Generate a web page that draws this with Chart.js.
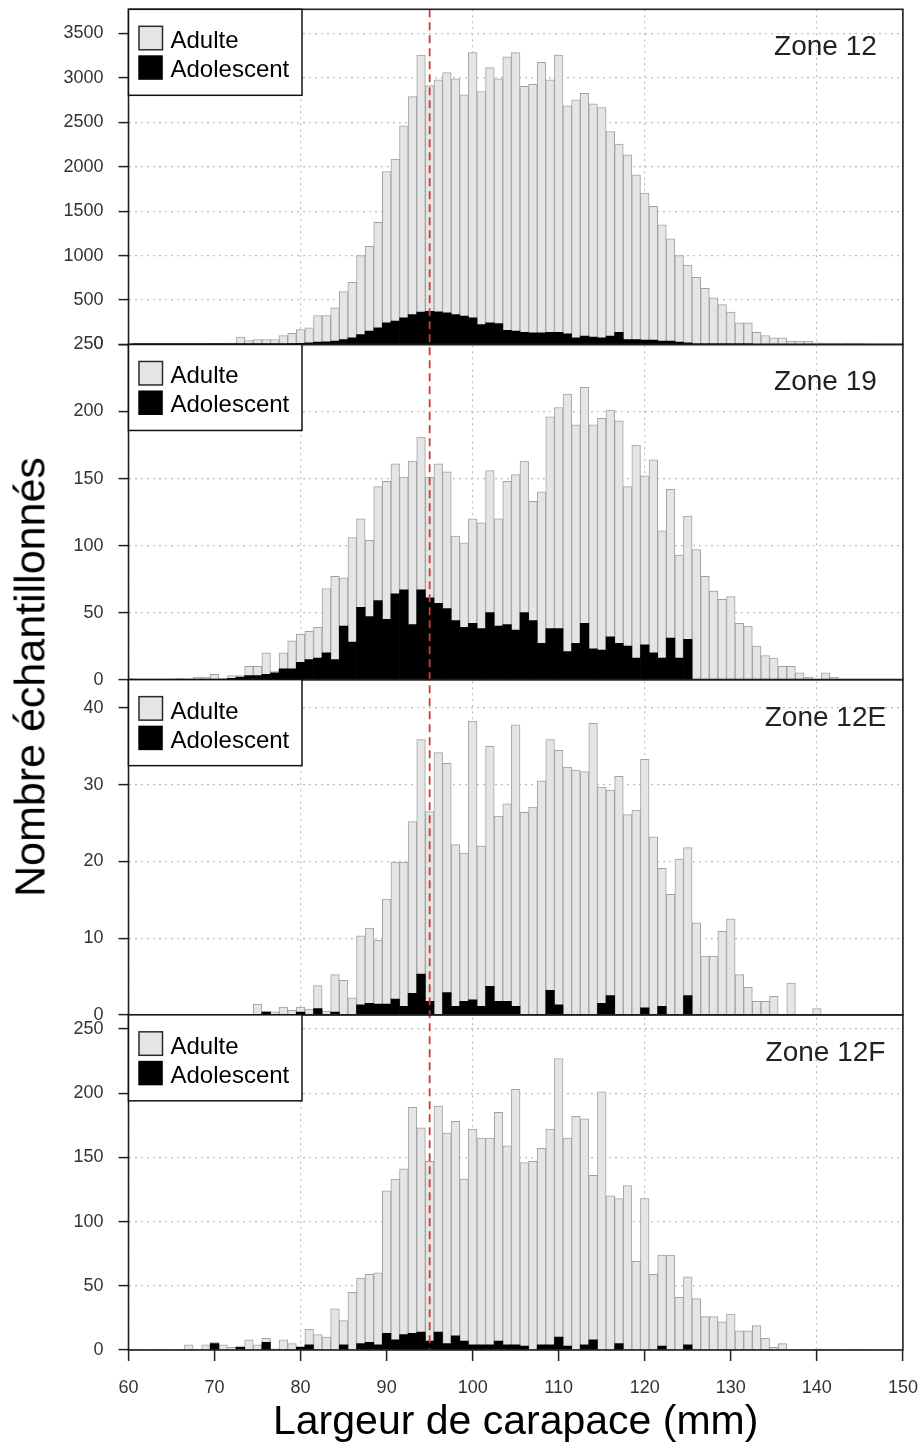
<!DOCTYPE html>
<html lang="fr">
<head>
<meta charset="utf-8">
<title>Largeur de carapace par zone</title>
<script src="https://cdn.jsdelivr.net/npm/chart.js@4.4.1/dist/chart.umd.min.js"></script>
<style>
  html, body { margin: 0; padding: 0; background: #fff; }
  #wrap { position: relative; width: 924px; height: 1447px; }
  #ytitle {
    position: absolute; left: 30px; top: 677px;
    transform: translate(-50%, -50%) rotate(-90deg);
    font-family: "Liberation Sans", Arial, sans-serif; font-size: 43px; line-height: 1;
    color: #000; white-space: nowrap;
  }
</style>
</head>
<body>
<div id="wrap">
  <canvas id="c" width="924" height="1447"></canvas>
  <div id="ytitle">Nombre échantillonnés</div>
</div>
<script>
// ---- Catégories : classes de largeur de carapace (mm) ----
const largeur = [60,61,62,63,64,65,66,67,68,69,70,71,72,73,74,75,76,77,78,79,
  80,81,82,83,84,85,86,87,88,89,90,91,92,93,94,95,96,97,98,99,
  100,101,102,103,104,105,106,107,108,109,110,111,112,113,114,115,116,117,118,119,
  120,121,122,123,124,125,126,127,128,129,130,131,132,133,134,135,136,137,138,139,
  140,141,142,143,144,145,146];

// ---- Zone 12 ----
const zone12Adulte = [0,5,5,5,5,5,5,5,7,7,
  9,8,11,77,40,50,50,50,93,114,
  156,168,300,296,375,539,625,887,954,1187,
  1703,1823,2159,2452,2893,2538,2609,2702,2650,2489,
  2983,2620,2871,2751,3075,3133,2766,2796,3043,2838,
  3118,2564,2676,2732,2624,2590,2302,2115,2078,1853,
  1654,1504,1310,1150,973,875,748,627,521,447,
  361,242,242,138,101,75,75,37,37,37,
  18,15,15,15,15,15,0];
const zone12Adolescent = [0,3,3,3,3,3,3,3,3,3,
  3,4,4,5,5,6,6,6,8,10,
  12,19,26,30,37,56,75,112,150,187,
  243,262,300,337,363,374,367,356,337,318,
  300,225,243,236,160,150,138,131,131,138,
  138,120,75,94,82,75,94,138,56,56,
  49,49,37,37,26,19,8,5,3,2,
  2,1,1,0,0,0,0,0,0,0,
  0,0,0,0,0,0,0];

// ---- Zone 19 ----
const zone19Adulte = [1,0,0,0,0,0,1,0,2,2,
  4,1,2,1,7,7,16,1,12,21,
  21,21,23,48,62,36,78,66,57,85,
  103,97,84,122,114,90,104,102,63,63,
  78,79,106,80,107,116,113,89,113,158,
  165,192,163,176,167,173,169,166,119,159,
  126,144,95,111,77,92,97,77,66,60,
  62,42,40,25,18,16,10,10,5,2,
  0,5,2,0,0,0,0];
const zone19Adolescent = [0,0,0,0,0,0,0,0,0,0,
  0,0,1,2,3,3,4,5,8,8,
  13,15,16,20,15,40,28,54,47,59,
  45,64,67,41,67,61,57,53,44,39,
  42,38,50,40,41,37,50,44,27,38,
  38,21,27,42,23,22,32,27,25,16,
  26,20,16,31,16,30,0,0,0,0,
  0,0,0,0,0,0,0,0,0,0,
  0,0,0,0,0,0,0];

// ---- Zone 12E ----
const zone12EAdulte = [0,0,0,0,0,0,0,0,0,0,
  0,0,0,0,0,1.4,0.1,0.4,1.0,0.6,
  0.65,0.75,3.0,0.5,4.9,4.5,2.2,9.0,9.8,8.35,
  13.7,17.85,18.8,22.4,30.6,24.75,34.2,29.9,21.1,19.35,
  36.35,20.9,31.3,24.15,25.75,36.7,26.4,27.1,30.5,32.7,
  33.2,32.3,31.9,31.7,38,28.2,26.8,31.1,26.1,26.7,
  32.4,23.2,18,15.7,20.3,19.3,12,7.65,7.65,10.9,
  12.5,5.25,3.6,1.75,1.75,2.4,0,4.15,0,0,
  0.8,0,0,0,0,0,0];
const zone12EAdolescent = [0,0,0,0,0,0,0,0,0,0,
  0,0,0,0,0,0,0.35,0,0,0,
  0.35,0,0.8,0,0.35,0,0,1.3,1.5,1.4,
  1.4,2.05,1.1,2.8,5.3,1.75,0,2.9,1.1,1.75,
  1.95,1.1,3.7,1.75,1.75,1.1,0,0,0,3.2,
  1.3,0,0,0,0,1.5,2.5,0,0,0,
  0.9,0,1.1,0,0,2.5,0,0,0,0,
  0,0,0,0,0,0,0,0,0,0,
  0,0,0,0,0,0,0];

// ---- Zone 12F ----
const zone12FAdulte = [0,0,0,0,0,0,0,4,0,4,
  1,4,2,1,8,4,3,1,8,5,
  1,12,12,10,32,19,45,51,53,56,
  111,125,129,176,159,140,176,164,167,126,
  168,161,161,178,155,199,143,147,153,168,
  217,162,182,176,128,201,120,113,128,69,
  118,59,71,74,41,53,40,26,26,22,
  28,15,15,19,9,2,5,0,0,0,
  0,0,0,0,0,0,0];
const zone12FAdolescent = [0,0,0,0,0,0,0,0,0,0,
  5,0,0,2,0,0,6,0,0,0,
  2,4,0,0,0,4,0,5,6,4,
  13,8,12,13,14,7,14,5,11,7,
  4,4,4,7,4,4,3,0,4,4,
  10,3,0,4,8,0,0,5,0,0,
  0,0,3,0,0,4,0,0,0,0,
  0,0,0,0,0,0,0,0,0,0,
  0,0,0,0,0,0,0];

// ---- Graduations ----
const xTicks = [60, 70, 80, 90, 100, 110, 120, 130, 140, 150];
const yTicksZone12 = [0, 500, 1000, 1500, 2000, 2500, 3000, 3500];
const yTicksZone19 = [0, 50, 100, 150, 200, 250];
const yTicksZone12E = [0, 10, 20, 30, 40];
const yTicksZone12F = [0, 50, 100, 150, 200, 250];
const zoneNames = ['Zone 12', 'Zone 19', 'Zone 12E', 'Zone 12F'];
const yMax = [3770, 250, 43.7, 261];
const ligneReference = 95;
const zoneLabelX = 141;

const FONT = '"Liberation Sans", Arial, sans-serif';
const axisIds = ['yA', 'yB', 'yC', 'yD'];
const yTicksAll = [yTicksZone12, yTicksZone19, yTicksZone12E, yTicksZone12F];
const adultes = [zone12Adulte, zone19Adulte, zone12EAdulte, zone12FAdulte];
const adolescents = [zone12Adolescent, zone19Adolescent, zone12EAdolescent, zone12FAdolescent];

const datasets = [];
axisIds.forEach((id, i) => {
  datasets.push({
    label: 'Adolescent', data: adolescents[i], yAxisID: id, xAxisID: 'x',
    backgroundColor: '#000000', borderWidth: 0, grouped: false, stack: 's' + i,
    barPercentage: 1, categoryPercentage: 1
  });
  datasets.push({
    label: 'Adulte', data: adultes[i], yAxisID: id, xAxisID: 'x',
    backgroundColor: '#e5e5e5', borderColor: '#a2a2a2', borderWidth: 1,
    borderSkipped: 'start', grouped: false, stack: 's' + i,
    barPercentage: 1, categoryPercentage: 1
  });
});

function yScale(i) {
  return {
    type: 'linear', position: 'left', stack: 'panneaux', stackWeight: 1, weight: 4 - i,
    stacked: true, min: 0, max: yMax[i],
    afterBuildTicks(s) { s.ticks = yTicksAll[i].map(v => ({ value: v })); },
    ticks: { autoSkip: false, padding: 15, color: '#333', font: { family: FONT, size: 18 },
             callback: v => String(v) },
    grid: { color: '#bdbdbd', lineWidth: 1.2, tickLength: 10, tickColor: '#222', tickWidth: 1.5 },
    border: { display: false, dash: [2, 4] },
    afterFit(s) { s.width = 128.5; s.paddingTop = 0; s.paddingBottom = 0; }
  };
}

const scales = {
  x: {
    type: 'linear', position: 'bottom', min: 60, max: 150, offset: false,
    afterBuildTicks(s) { s.ticks = xTicks.map(v => ({ value: v })); },
    ticks: { autoSkip: false, maxRotation: 0, padding: 16, color: '#333', font: { family: FONT, size: 18 },
             callback: v => String(v) },
    grid: {
      offset: false,
      color: c => (c.tick && c.tick.value % 20 === 0) ? '#bdbdbd' : 'rgba(0,0,0,0)',
      lineWidth: 1.2, tickLength: 11, tickColor: '#222', tickWidth: 1.5
    },
    border: { display: false, dash: [2, 4] },
    title: { display: true, text: 'Largeur de carapace (mm)', color: '#000',
             font: { family: FONT, size: 41 }, padding: { top: 0, bottom: 0 } },
    afterFit(s) { s.height = 97; s.paddingLeft = 0; s.paddingRight = 0; }
  }
};
axisIds.forEach((id, i) => { scales[id] = yScale(i); });

const panelsPlugin = {
  id: 'panels',
  afterDatasetsDraw(chart) {
    const ctx = chart.ctx;
    const xs = chart.scales.x;
    const area = chart.chartArea;
    // ligne de référence (95 mm)
    const xr = xs.getPixelForValue(ligneReference);
    ctx.save();
    ctx.strokeStyle = '#d23a3a';
    ctx.lineWidth = 1.8;
    ctx.setLineDash([8, 5]);
    ctx.beginPath();
    ctx.moveTo(xr, area.top);
    ctx.lineTo(xr, area.bottom);
    ctx.stroke();
    ctx.restore();

    const labAd = chart.data.datasets[1].label;
    const labAdo = chart.data.datasets[0].label;
    axisIds.forEach((id, i) => {
      const ys = chart.scales[id];
      const T = ys.top, B = ys.bottom;
      ctx.save();
      // cadre
      ctx.strokeStyle = '#1e1e1e';
      ctx.lineWidth = 1.6;
      ctx.strokeRect(xs.left, T, xs.right - xs.left, B - T);
      // légende
      ctx.fillStyle = '#fff';
      ctx.fillRect(xs.left, T, 173.5, 86);
      ctx.strokeStyle = '#111';
      ctx.lineWidth = 1.5;
      ctx.strokeRect(xs.left, T, 173.5, 86);
      ctx.fillStyle = '#e5e5e5';
      ctx.fillRect(139, T + 17, 23.5, 23.5);
      ctx.strokeStyle = '#2a2a2a';
      ctx.lineWidth = 1.5;
      ctx.strokeRect(139, T + 17, 23.5, 23.5);
      ctx.fillStyle = '#000';
      ctx.fillRect(138.3, T + 46, 24.5, 24.5);
      ctx.font = '24px ' + FONT;
      ctx.textAlign = 'left';
      ctx.textBaseline = 'alphabetic';
      ctx.fillText(labAd, 170.5, T + 39);
      ctx.fillText(labAdo, 170.5, T + 68);
      // nom de zone
      ctx.font = '28px ' + FONT;
      ctx.fillStyle = '#222';
      ctx.textAlign = 'center';
      ctx.fillText(zoneNames[i], xs.getPixelForValue(zoneLabelX), T + 46);
      ctx.restore();
    });
  }
};

new Chart(document.getElementById('c'), {
  type: 'bar',
  data: { labels: largeur, datasets },
  options: {
    responsive: false,
    animation: false,
    events: [],
    layout: { padding: { top: 9.3, right: 21.1, bottom: 0, left: 0 } },
    plugins: { legend: { display: false }, tooltip: { enabled: false } },
    scales
  },
  plugins: [panelsPlugin]
});
</script>
</body>
</html>
